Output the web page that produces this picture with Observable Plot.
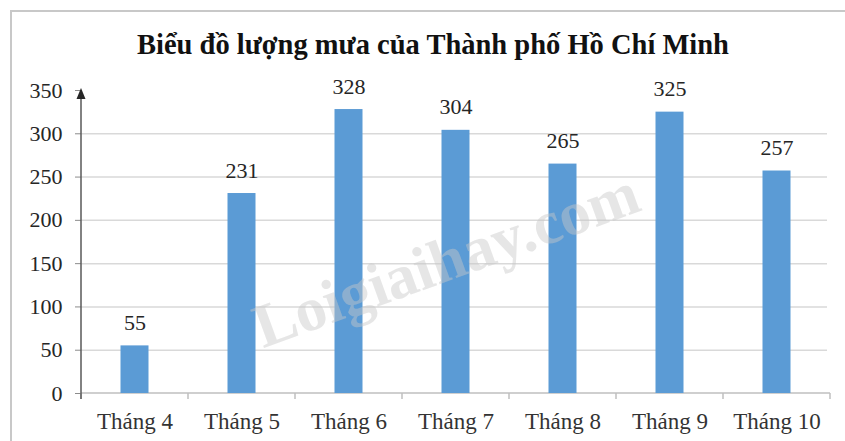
<!DOCTYPE html>
<html><head><meta charset="utf-8">
<script src="https://cdn.jsdelivr.net/npm/d3@7"></script>
<script src="https://cdn.jsdelivr.net/npm/@observablehq/plot@0.6"></script>
<style>
body{margin:0;background:#fff;}
#wrap{position:relative;width:845px;height:441px;overflow:hidden;}
#frame{position:absolute;left:10px;top:10px;width:900px;height:600px;border-left:2px solid #c8c8c8;border-top:2px solid #c8c8c8;pointer-events:none;}
#chart svg text{font-family:'Liberation Serif','Times New Roman',serif;}
</style></head><body>
<div id="wrap"><div id="chart"></div><div id="frame"></div></div>
<script>
const months = ["Tháng 4", "Tháng 5", "Tháng 6", "Tháng 7", "Tháng 8", "Tháng 9", "Tháng 10"];
const rainfall = [55, 231, 328, 304, 265, 325, 257];
const yTicks = [0, 50, 100, 150, 200, 250, 300, 350];
const gridValues = [50, 100, 150, 200, 250, 300];
const titleText = "Biểu đồ lượng mưa của Thành phố Hồ Chí Minh";
const watermarkText = ["Loigiaihay.com"];

const data = months.map((m, i) => ({month: m, value: rainfall[i]}));
const serif = "'Liberation Serif', 'Times New Roman', serif";

const yAxisLine = (index, scales, values, dims) => {
  const g = d3.create("svg:g");
  const x0 = dims.marginLeft;
  const yb = scales.y(0), yt = scales.y(350);
  g.append("line").attr("x1", x0).attr("x2", x0).attr("y1", yb + 6).attr("y2", yt + 4)
    .attr("stroke", "#595959").attr("stroke-width", 1.5);
  g.append("path").attr("d", `M${x0},${yt - 2}L${x0 - 4.5},${yt + 9}L${x0 + 4.5},${yt + 9}Z`).attr("fill", "#262626");
  return g.node();
};

const xAxisLine = (index, scales, values, dims) => {
  const g = d3.create("svg:g");
  const yb = scales.y(0);
  const x0 = dims.marginLeft, x1 = dims.width - dims.marginRight;
  g.append("line").attr("x1", x0).attr("x2", x1).attr("y1", yb).attr("y2", yb)
    .attr("stroke", "#bfbfbf").attr("stroke-width", 1.5);
  const bounds = months.map(m => scales.x(m)).concat([x1]);
  for (const b of bounds) {
    g.append("line").attr("x1", b).attr("x2", b).attr("y1", yb).attr("y2", yb + 6)
      .attr("stroke", "#bfbfbf").attr("stroke-width", 1.5);
  }
  return g.node();
};

const chart = Plot.plot({
  width: 845, height: 441,
  marginLeft: 81, marginRight: 15, marginTop: 90, marginBottom: 48,
  style: {fontFamily: serif, background: "transparent"},
  x: {domain: months, padding: 0, label: null},
  y: {domain: [0, 350], label: null},
  marks: [
    Plot.ruleY(gridValues, {stroke: "#d9d9d9", strokeWidth: 1.5, insetRight: 3}),
    Plot.axisY({ticks: yTicks, tickSize: 6, tickPadding: 13, fontSize: 22, fontFamily: serif, fill: "#262626", stroke: "#8c8c8c", label: null}),
    xAxisLine,
    Plot.axisX({tickSize: 0, tickPadding: 19, fontSize: 23, fontFamily: serif, fill: "#333", label: null}),
    Plot.barY(data, {x: "month", y: "value", fill: "#5b9bd5", insetLeft: 39.5, insetRight: 39.5}),
    yAxisLine,
    Plot.text(data, {x: "month", y: "value", text: d => String(d.value), lineAnchor: "bottom", dy: -16, fontSize: 22, fontFamily: serif, fill: "#262626"}),
    Plot.text([titleText], {frameAnchor: "top", dx: -23, dy: -37, lineAnchor: "bottom", fontSize: 28.5, fontFamily: serif, fontWeight: "bold", fill: "#111"}),
    Plot.text(watermarkText, {frameAnchor: "top-left", textAnchor: "middle", lineAnchor: "middle", dx: 365, dy: 170, rotate: -20, fontSize: 62, fontFamily: serif, fontWeight: "bold", fill: "#c8c8c8", fillOpacity: 0.45})
  ]
});
document.getElementById("chart").appendChild(chart);
</script>
</body></html>
